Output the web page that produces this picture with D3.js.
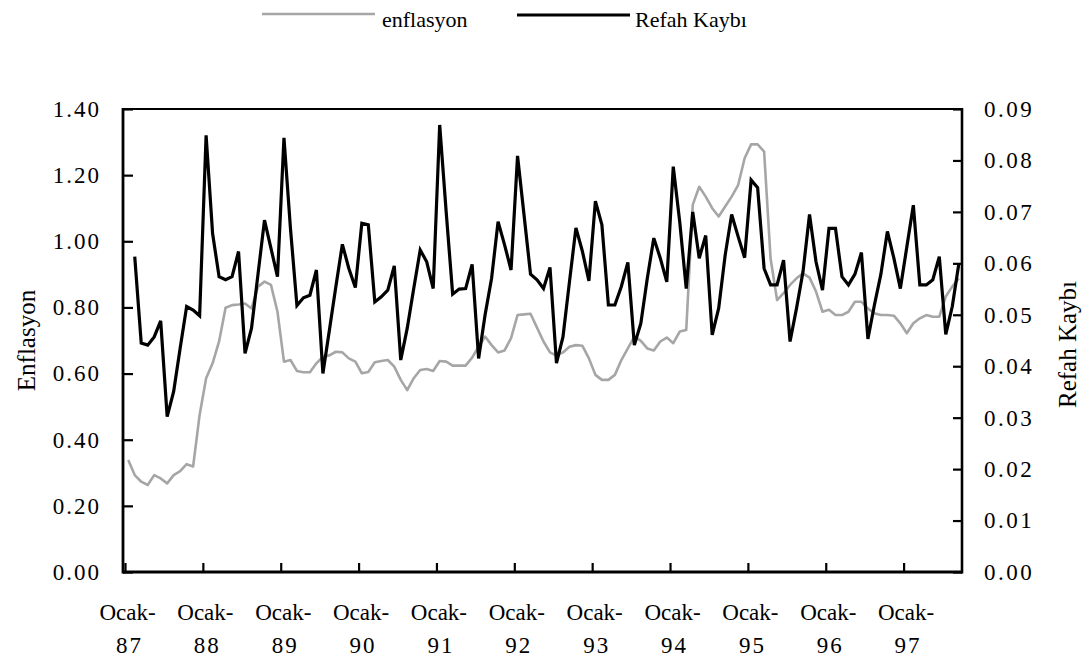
<!DOCTYPE html>
<html><head><meta charset="utf-8">
<script src="https://cdn.jsdelivr.net/npm/d3@7/dist/d3.min.js"></script>
<style>
html,body{margin:0;padding:0;background:#fff;}
svg{display:block;}
text{font-family:"Liberation Serif","Times New Roman",serif;fill:#000;}
</style></head>
<body>
<svg id="chart" width="1082" height="661"></svg>
<script>
// ---- data (monthly, Ocak 1987 .. Eylül 1997) ----
const startYear = 1987;
const tickLabels = ["Ocak-87","Ocak-88","Ocak-89","Ocak-90","Ocak-91","Ocak-92","Ocak-93","Ocak-94","Ocak-95","Ocak-96","Ocak-97"];
const leftTicks = [0,0.2,0.4,0.6,0.8,1.0,1.2,1.4];
const rightTicks = [0,0.01,0.02,0.03,0.04,0.05,0.06,0.07,0.08,0.09];
const enflasyon = [
0.339,0.293,0.273,0.263,0.293,0.283,0.268,0.293,0.305,0.326,0.319,0.475,
0.586,0.631,0.697,0.799,0.807,0.809,0.812,0.797,0.863,0.878,0.868,0.787,
0.636,0.641,0.608,0.604,0.604,0.631,0.651,0.655,0.666,0.664,0.646,0.636,
0.601,0.605,0.634,0.638,0.641,0.621,0.581,0.550,0.586,0.611,0.614,0.608,
0.638,0.636,0.624,0.624,0.624,0.648,0.681,0.712,0.686,0.664,0.670,0.707,
0.777,0.779,0.781,0.739,0.697,0.664,0.654,0.664,0.681,0.686,0.684,0.646,
0.596,0.581,0.581,0.596,0.641,0.676,0.712,0.699,0.676,0.670,0.697,0.709,
0.692,0.727,0.732,1.110,1.165,1.135,1.100,1.075,1.105,1.135,1.170,1.251,
1.293,1.293,1.271,0.948,0.822,0.843,0.868,0.888,0.903,0.890,0.848,0.787,
0.793,0.777,0.777,0.787,0.817,0.817,0.797,0.782,0.777,0.777,0.775,0.752,
0.722,0.752,0.767,0.777,0.772,0.772,0.833,0.863,0.888
];
const refahKaybi = [
null,0.0613,0.0445,0.0441,0.0457,0.0488,0.0302,0.0351,0.0435,0.0516,0.0509,0.0498,
0.0849,0.0658,0.0574,0.0568,0.0574,0.0623,0.0425,0.0474,0.0579,0.0684,0.0629,0.0574,
0.0844,0.0668,0.0518,0.0533,0.0538,0.0587,0.0386,0.0470,0.0555,0.0637,0.0590,0.0553,
0.0678,0.0675,0.0525,0.0535,0.0548,0.0595,0.0412,0.0474,0.0551,0.0626,0.0603,0.0551,
0.0869,0.0700,0.0540,0.0550,0.0551,0.0598,0.0415,0.0500,0.0571,0.0681,0.0636,0.0587,
0.0809,0.0694,0.0579,0.0568,0.0551,0.0592,0.0406,0.0457,0.0564,0.0669,0.0623,0.0566,
0.0721,0.0675,0.0519,0.0519,0.0555,0.0602,0.0441,0.0483,0.0571,0.0649,0.0610,0.0564,
0.0788,0.0680,0.0551,0.0700,0.0610,0.0654,0.0461,0.0513,0.0616,0.0695,0.0652,0.0611,
0.0762,0.0747,0.0590,0.0558,0.0558,0.0606,0.0448,0.0513,0.0584,0.0695,0.0603,0.0548,
0.0668,0.0668,0.0574,0.0558,0.0579,0.0621,0.0453,0.0519,0.0579,0.0662,0.0610,0.0551,
0.0632,0.0713,0.0558,0.0558,0.0568,0.0613,0.0462,0.0516,0.0598
];

// ---- layout ----
const L = 123, R = 962, T = 109, B = 572;
const n = enflasyon.length;
const svg = d3.select("#chart");
const x = d3.scaleLinear().domain([-0.5, n - 0.5]).range([125, R]);
const yL = d3.scaleLinear().domain([0, 1.4]).range([B, T]);
const yR = d3.scaleLinear().domain([0, 0.09]).range([B, T]);

// lines
const lineL = d3.line().x((d, i) => x(i)).y(d => yL(d));
const lineR = d3.line().defined(d => d != null).x((d, i) => x(i)).y(d => yR(d));

svg.append("path").datum(enflasyon).attr("d", lineL)
  .attr("fill", "none").attr("stroke", "#a6a6a6").attr("stroke-width", 2.6).attr("stroke-linejoin", "round");
svg.append("path").datum(refahKaybi).attr("d", lineR)
  .attr("fill", "none").attr("stroke", "#000").attr("stroke-width", 3.2).attr("stroke-linejoin", "miter");

// axes
const fmt2 = d3.format(".2f");
const gL = svg.append("g").attr("transform", `translate(${L},0)`)
  .call(d3.axisLeft(yL).tickValues(leftTicks).tickSize(-10).tickPadding(22).tickFormat(fmt2));
const gR = svg.append("g").attr("transform", `translate(${R},0)`)
  .call(d3.axisRight(yR).tickValues(rightTicks).tickSize(-9).tickPadding(22).tickFormat(fmt2));
const xTickVals = tickLabels.map((d, i) => i * 12 - 0.5);
const gB = svg.append("g").attr("transform", `translate(0,${B})`)
  .call(d3.axisBottom(x).tickValues(xTickVals).tickSize(-9).tickFormat(""));

[gL, gR, gB].forEach(g => {
  g.select(".domain").remove();
  g.selectAll(".tick line").attr("stroke", "#000").attr("stroke-width", 2.2);
  g.selectAll(".tick text").attr("font-size", 23).attr("letter-spacing", "2px")
    .attr("font-family", "Liberation Serif, Times New Roman, serif");
});
gR.selectAll(".tick text").attr("letter-spacing", "2.5px");

// x labels in two lines
gB.selectAll(".tick").each(function(d, i) {
  const parts = tickLabels[i].split("-");
  const t = d3.select(this).append("text").attr("text-anchor", "middle").attr("font-size", 23)
    .attr("fill", "#000").attr("y", 48).attr("x", 2);
  t.append("tspan").attr("x", 2).attr("y", 48).text(parts[0] + "-");
  t.append("tspan").attr("x", 4).attr("y", 81).attr("letter-spacing", "2px").text(parts[1]);
});

// frame
svg.append("line").attr("x1", L).attr("x2", L).attr("y1", T - 1).attr("y2", B + 1.5).attr("stroke", "#000").attr("stroke-width", 2.8);
svg.append("line").attr("x1", R).attr("x2", R).attr("y1", T - 1).attr("y2", B + 1.5).attr("stroke", "#000").attr("stroke-width", 2.6);
svg.append("line").attr("x1", L).attr("x2", R).attr("y1", B).attr("y2", B).attr("stroke", "#000").attr("stroke-width", 2.8);
svg.append("line").attr("x1", L).attr("x2", R).attr("y1", T).attr("y2", T).attr("stroke", "#000").attr("stroke-width", 2);

// axis titles
svg.append("text").attr("transform", `translate(35,${(T + B) / 2}) rotate(-90)`)
  .attr("text-anchor", "middle").attr("font-size", 25).text("Enflasyon");
svg.append("text").attr("transform", `translate(1076,${(T + B) / 2 + 4}) rotate(-90)`)
  .attr("text-anchor", "middle").attr("font-size", 25).text("Refah Kaybı");

// legend
const leg = svg.append("g");
leg.append("line").attr("x1", 262).attr("x2", 375).attr("y1", 14).attr("y2", 14)
  .attr("stroke", "#a6a6a6").attr("stroke-width", 2.4);
leg.append("text").attr("x", 382).attr("y", 27).attr("font-size", 22).text("enflasyon");
leg.append("line").attr("x1", 517).attr("x2", 630).attr("y1", 15).attr("y2", 15)
  .attr("stroke", "#000").attr("stroke-width", 3);
leg.append("text").attr("x", 635).attr("y", 27).attr("font-size", 22).text("Refah Kaybı");
</script>
</body></html>
